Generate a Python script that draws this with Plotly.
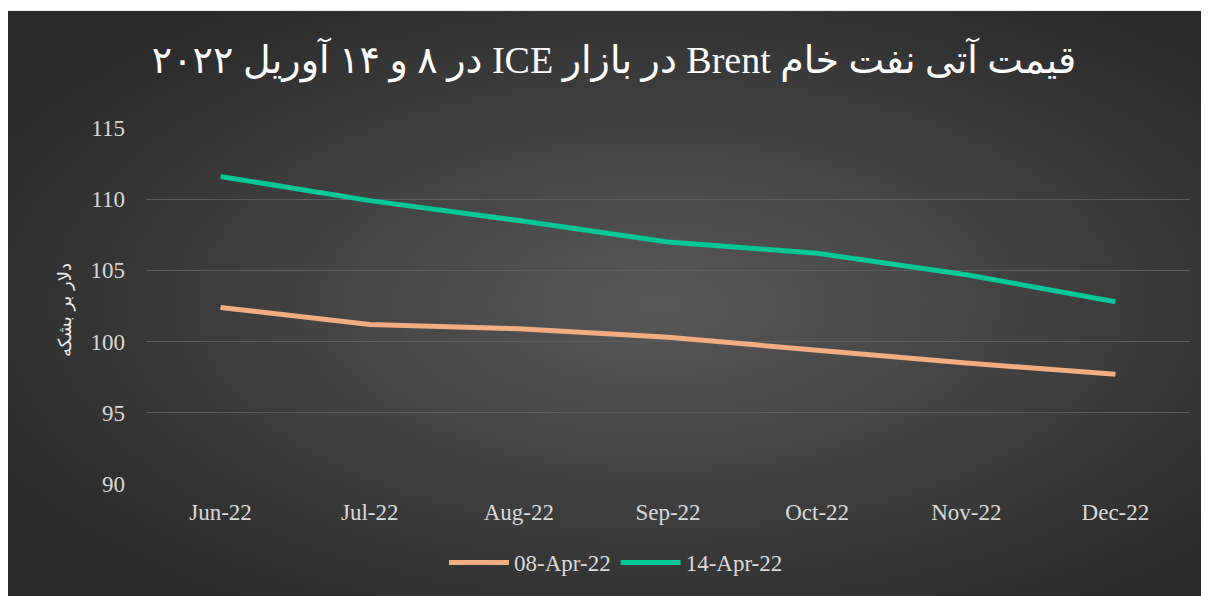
import base64
import plotly.graph_objects as go

# months and futures prices (USD per barrel)
months = ["Jun-22", "Jul-22", "Aug-22", "Sep-22", "Oct-22", "Nov-22", "Dec-22"]
apr08 = [102.4, 101.2, 100.9, 100.3, 99.4, 98.5, 97.7]
apr14 = [111.6, 109.9, 108.5, 107.0, 106.2, 104.7, 102.8]

title_text = "قیمت آتی نفت خام Brent در بازار ICE در ۸ و ۱۴ آوریل ۲۰۲۲"
ytitle_text = "دلار بر بشکه"

# page body adds 8px margin, so figure is a bit smaller
W, H = 1201, 588
ml, mr, mt, mb = 138, 19, 120, 110
pw, ph = W - ml - mr, H - mt - mb

# radial gradient background as svg
svg = (
    '<svg xmlns="http://www.w3.org/2000/svg" width="1201" height="586">'
    '<defs><radialGradient id="g" cx="54%" cy="50%" r="62%">'
    '<stop offset="0%" stop-color="#585858"/>'
    '<stop offset="100%" stop-color="#2a2a2a"/>'
    '</radialGradient></defs>'
    '<rect width="1201" height="586" fill="url(#g)"/></svg>'
)
bg_src = "data:image/svg+xml;base64," + base64.b64encode(svg.encode()).decode()

fig = go.Figure()
fig.add_trace(go.Scatter(x=months, y=apr08, name="08-Apr-22", mode="lines",
                         line=dict(color="#F4AD7E", width=5)))
fig.add_trace(go.Scatter(x=months, y=apr14, name="14-Apr-22", mode="lines",
                         line=dict(color="#00C896", width=5)))

fig.add_layout_image(dict(
    source=bg_src, xref="paper", yref="paper",
    x=(-2 - ml) / pw, y=1 + (mt - 2) / ph,
    sizex=(W + 8) / pw, sizey=(H + 4) / ph,
    sizing="stretch", xanchor="left", yanchor="top", layer="below"))

fig.add_annotation(text=ytitle_text, textangle=-90, xref="paper", yref="paper",
                   x=(44 - ml) / pw, y=(mt + ph - 303) / ph, showarrow=False,
                   font=dict(family="DejaVu Sans", size=18, color="#ececec"))

fig.update_layout(
    width=W, height=H,
    margin=dict(l=ml, r=mr, t=mt, b=mb),
    paper_bgcolor="white", plot_bgcolor="rgba(0,0,0,0)",
    font=dict(family="Liberation Serif, DejaVu Serif", size=23, color="#d9d9d9"),
    title=dict(text="\u202b" + title_text + "\u202c", x=606 / W, xref="container",
               xanchor="center", y=1 - 52 / H, yanchor="middle",
               font=dict(family="Liberation Serif, DejaVu Sans", size=38, color="#ffffff")),
    xaxis=dict(showgrid=False, zeroline=False, showline=False, ticks="",
               range=[-0.5, 6.5], ticklabelstandoff=12,
               tickfont=dict(size=23, color="#d9d9d9")),
    yaxis=dict(range=[90, 115], dtick=5, showgrid=True, gridcolor="#5c5c5c",
               gridwidth=1, zeroline=False, showline=False, ticks="",
               ticklabelstandoff=20, tickfont=dict(size=23, color="#d9d9d9")),
    legend=dict(orientation="h", x=(608 - ml) / pw, xanchor="center",
                y=-(557 - mt - ph) / ph, yanchor="middle",
                font=dict(size=23, color="#d9d9d9"),
                bgcolor="rgba(0,0,0,0)", itemwidth=60),
    showlegend=True,
)

fig.write_html("out.html")
